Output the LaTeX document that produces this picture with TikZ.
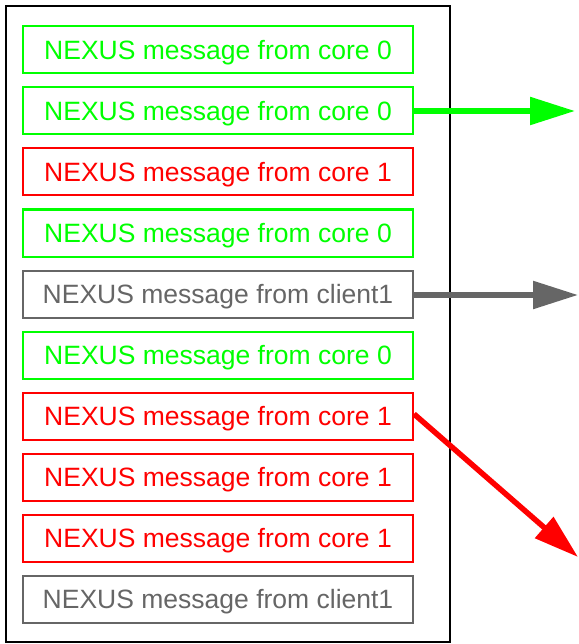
\documentclass[tikz,border=0pt]{standalone}
\usepackage{fontspec}
\setmainfont{Liberation Sans}
\usetikzlibrary{arrows.meta}
\definecolor{cgreen}{HTML}{00FF00}
\definecolor{cred}{HTML}{FF0000}
\definecolor{cgray}{HTML}{666666}
\tikzset{
  msg/.style={draw=#1, text=#1, line width=2pt, minimum width=390pt, minimum height=47pt,
    inner sep=0pt, text height=19pt, text depth=0pt,
    font=\fontsize{26.5pt}{30pt}\selectfont, anchor=center},
  outarrow/.style={draw=#1, line width=5.5pt, -{Triangle[length=45pt,width=27pt]}}
}
\begin{document}
\begin{tikzpicture}[x=1pt,y=-1pt]
\useasboundingbox (0,0) rectangle (578,644);
\node[draw=black, line width=2.5pt, minimum width=444pt, minimum height=636pt, inner sep=0pt] (frame) at (228,324) {};
\node[msg=cgreen] (b1) at (218,50) {NEXUS message from core 0};
\node[msg=cgreen] (b2) at (218,111) {NEXUS message from core 0};
\node[msg=cred] (b3) at (218,172) {NEXUS message from core 1};
\node[msg=cgreen] (b4) at (218,233) {NEXUS message from core 0};
\node[msg=cgray] (b5) at (218,294) {NEXUS message from client1};
\node[msg=cgreen] (b6) at (218,355) {NEXUS message from core 0};
\node[msg=cred] (b7) at (218,416) {NEXUS message from core 1};
\node[msg=cred] (b8) at (218,477) {NEXUS message from core 1};
\node[msg=cred] (b9) at (218,538) {NEXUS message from core 1};
\node[msg=cgray] (b10) at (218,599) {NEXUS message from client1};
\coordinate (t1) at (575,111);
\coordinate (t2) at (578,295);
\coordinate (t3) at (578,557);
\draw[outarrow=cgreen] (b2.east) -- (t1);
\draw[outarrow=cgray] (b5.east |- t2) -- (t2);
\draw[outarrow=cred] ([yshift=2pt]b7.east) -- (t3);
\end{tikzpicture}
\end{document}
